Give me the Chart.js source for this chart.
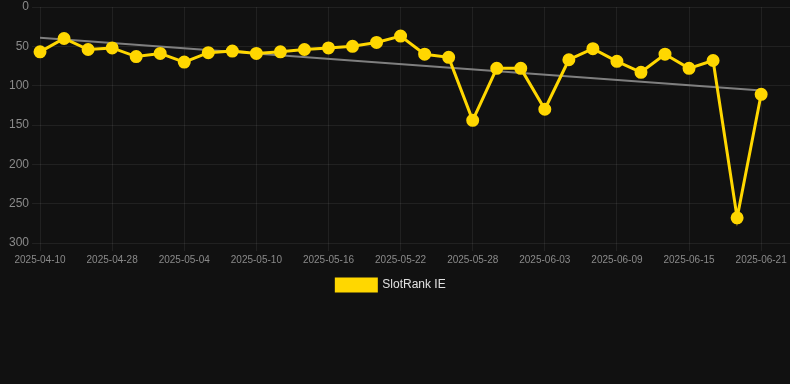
<!DOCTYPE html>
<html>
<head>
<meta charset="utf-8">
<script src="https://cdn.jsdelivr.net/npm/chart.js@4/dist/chart.umd.min.js"></script>
<style>
  html, body { margin: 0; padding: 0; background: #111111; }
  #wrap { position: relative; width: 790px; height: 301px; }
</style>
</head>
<body>
<div id="wrap"><canvas id="c"></canvas></div>
<script>
const dates = [
  "2025-04-10","2025-04-16","2025-04-22","2025-04-28","2025-04-30","2025-05-02",
  "2025-05-04","2025-05-06","2025-05-08","2025-05-10","2025-05-12","2025-05-14",
  "2025-05-16","2025-05-18","2025-05-20","2025-05-22","2025-05-24","2025-05-26",
  "2025-05-28","2025-05-30","2025-06-01","2025-06-03","2025-06-05","2025-06-07",
  "2025-06-09","2025-06-11","2025-06-13","2025-06-15","2025-06-17","2025-06-19",
  "2025-06-21"
];
const rankIE = [57,40,54,52,63,59,70,58,56,59,57,54,52,50,45,37,60,64,144,78,78,130,67,53,69,83,60,78,68,268,111];
const trendStart = 39;
const trendEnd = 106;
const yTicks = [0,50,100,150,200,250,300];
const xTickIndices = [0,3,6,9,12,15,18,21,24,27,30];
const seriesName = "SlotRank IE";

const mainPoints = rankIE.map((v, i) => ({ x: i, y: v }));
const trendPoints = [{ x: 0, y: trendStart }, { x: dates.length - 1, y: trendEnd }];

const gridColor = "rgba(255,255,255,0.07)";
const tickColor = "#8a8a8a";

const legendShift = {
  id: "legendShift",
  afterLayout(chart) {
    if (chart.legend) { chart.legend.left -= 14; }
  }
};

new Chart(document.getElementById("c"), {
  type: "line",
  data: {
    datasets: [
      {
        label: seriesName,
        data: mainPoints,
        borderColor: "#FFD700",
        backgroundColor: "#FFD700",
        pointBackgroundColor: "#FFD700",
        pointBorderColor: "#FFD700",
        borderWidth: 3,
        pointRadius: 5,
        tension: 0,
        clip: false,
        order: 1
      },
      {
        label: "trend",
        data: trendPoints,
        borderColor: "rgba(140,140,140,0.9)",
        borderWidth: 2,
        pointRadius: 0,
        tension: 0,
        order: 2
      }
    ]
  },
  plugins: [legendShift],
  options: {
    responsive: true,
    maintainAspectRatio: false,
    animation: false,
    layout: { autoPadding: false, padding: { left: 6, right: 0, top: 0, bottom: 0 } },
    scales: {
      x: {
        type: "linear",
        min: 0,
        max: 31.2,
        afterBuildTicks: (scale) => { scale.ticks = xTickIndices.map(v => ({ value: v })); },
        ticks: {
          autoSkip: false,
          maxRotation: 0,
          color: tickColor,
          font: { family: "'Liberation Sans', Arial, sans-serif", size: 10 },
          callback: (v) => dates[v] !== undefined ? dates[v] : ""
        },
        grid: { color: gridColor },
        border: { display: false }
      },
      y: {
        reverse: true,
        min: 0,
        max: 300,
        afterBuildTicks: (scale) => { scale.ticks = yTicks.map(v => ({ value: v })); },
        ticks: {
          color: tickColor,
          font: { family: "'Liberation Sans', Arial, sans-serif", size: 12, lineHeight: 0.67 }
        },
        grid: { color: gridColor },
        border: { display: false }
      }
    },
    plugins: {
      legend: {
        position: "bottom",
        labels: {
          color: "#e0e0e0",
          boxWidth: 40,
          boxHeight: 12,
          font: { family: "'Liberation Sans', Arial, sans-serif", size: 12 },
          filter: (item) => item.text === seriesName
        }
      },
      tooltip: { enabled: false }
    }
  }
});
</script>
</body>
</html>
